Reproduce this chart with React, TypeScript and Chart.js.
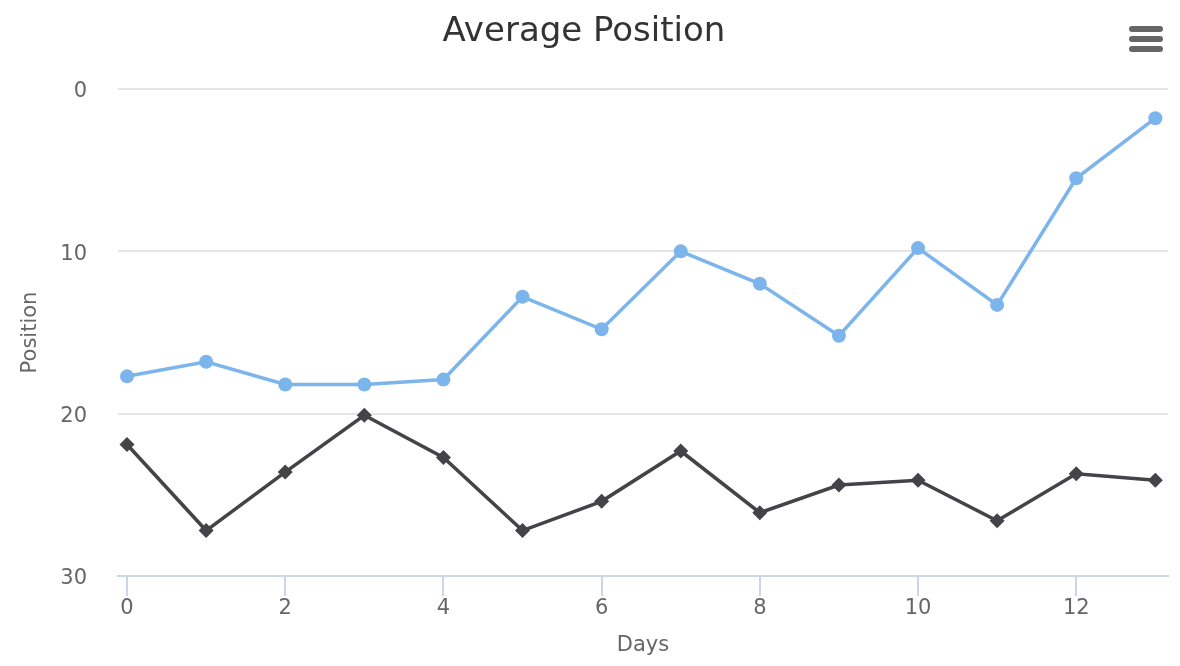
import React, { useEffect, useRef } from "react";
import { Chart, registerables } from "chart.js";

Chart.register(...registerables);

const days: number[] = [0, 1, 2, 3, 4, 5, 6, 7, 8, 9, 10, 11, 12, 13];
const seriesA: number[] = [17.7, 16.8, 18.2, 18.2, 17.9, 12.8, 14.8, 10.0, 12.0, 15.2, 9.8, 13.3, 5.5, 1.8];
const seriesB: number[] = [21.9, 27.2, 23.6, 20.1, 22.7, 27.2, 25.4, 22.3, 26.1, 24.4, 24.1, 26.6, 23.7, 24.1];
const xTicks: number[] = [0, 2, 4, 6, 8, 10, 12];
const yTicks: number[] = [0, 10, 20, 30];

const FONT = "'DejaVu Sans', sans-serif";

const menuPlugin = {
  id: "menuIcon",
  afterDraw(chart: any) {
    const ctx = chart.ctx;
    ctx.save();
    ctx.strokeStyle = "#666666";
    ctx.lineWidth = 6;
    ctx.lineCap = "round";
    [29, 39, 49].forEach((y) => {
      ctx.beginPath();
      ctx.moveTo(1132, y);
      ctx.lineTo(1160, y);
      ctx.stroke();
    });
    ctx.restore();
  },
};

export default function App() {
  const ref = useRef<HTMLCanvasElement>(null);
  useEffect(() => {
    const canvas = ref.current!;
    const chart = new Chart(canvas, {
      type: "line",
      data: {
        datasets: [
          {
            label: "A",
            data: days.map((d, i) => ({ x: d, y: seriesA[i] })),
            borderColor: "#7cb5ec",
            backgroundColor: "#7cb5ec",
            borderWidth: 3.5,
            pointRadius: 7,
            pointBorderWidth: 0,
            pointStyle: "circle",
            tension: 0,
          },
          {
            label: "B",
            data: days.map((d, i) => ({ x: d, y: seriesB[i] })),
            borderColor: "#434348",
            backgroundColor: "#434348",
            borderWidth: 3.5,
            pointRadius: 7.5,
            pointBorderWidth: 0,
            pointStyle: "rectRot",
            tension: 0,
          },
        ],
      },
      options: {
        responsive: false,
        animation: false,
        layout: { padding: { top: 0, right: 12, left: 0, bottom: 0 } },
        plugins: {
          legend: { display: false },
          tooltip: { enabled: false },
          title: {
            display: true,
            text: "Average Position",
            color: "#333333",
            font: { family: FONT, size: 34, weight: "normal" },
            padding: { top: 12, bottom: 36.2 },
          },
        },
        scales: {
          x: {
            type: "linear",
            min: -0.114,
            max: 13.16,
            afterBuildTicks: (scale: any) => {
              scale.ticks = xTicks.map((v) => ({ value: v }));
            },
            afterFit: (scale: any) => {
              scale.height = 90;
            },
            grid: {
              drawOnChartArea: false,
              drawTicks: true,
              tickLength: 20,
              color: "#ccd6eb",
              lineWidth: 2,
            },
            border: { display: true, color: "#ccd6eb", width: 2 },
            ticks: {
              color: "#666666",
              font: { family: FONT, size: 21 },
              padding: 0,
              maxRotation: 0,
            },
            title: {
              display: true,
              text: "Days",
              color: "#666666",
              font: { family: FONT, size: 21 },
              padding: { top: 0, bottom: 8 },
            },
          },
          y: {
            type: "linear",
            reverse: true,
            min: 0,
            max: 30,
            afterBuildTicks: (scale: any) => {
              scale.ticks = yTicks.map((v) => ({ value: v }));
            },
            afterFit: (scale: any) => {
              scale.width = 118;
            },
            grid: {
              drawTicks: false,
              color: "#e6e6e6",
              lineWidth: 2,
            },
            border: { display: false },
            ticks: {
              color: "#666666",
              font: { family: FONT, size: 21 },
              padding: 31,
              labelOffset: 3,
            },
            title: {
              display: true,
              text: "Position",
              color: "#666666",
              font: { family: FONT, size: 21 },
              padding: { top: 18, bottom: 0 },
            },
          },
        },
      },
      plugins: [menuPlugin],
    } as any);
    return () => chart.destroy();
  }, []);
  return (
    <div style={{ position: "absolute", left: 0, top: 0, width: 1180, height: 666, background: "#fff" }}>
      <canvas ref={ref} width={1180} height={666} style={{ display: "block" }} />
    </div>
  );
}
